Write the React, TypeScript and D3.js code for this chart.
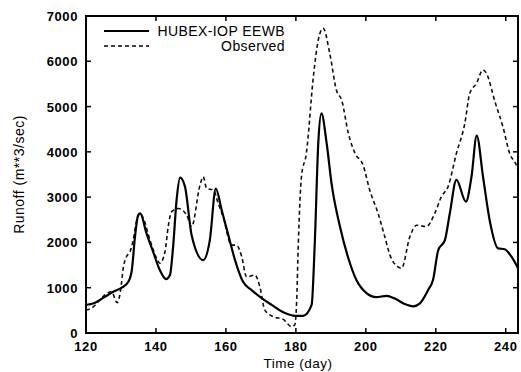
import React, { useRef, useEffect } from "react";
import * as d3 from "d3";

// model run (solid line)
const modelDays = [120, 122.6, 125.4, 127.8, 130.2, 132.1, 133.1, 134, 134.9, 135.5, 137.3, 139.2, 141.1, 142.9, 144, 144.9, 145.9, 146.9, 148.3, 150.2, 153.5, 155.4, 157.1, 158.8, 160.7, 162.6, 164.9, 167.3, 170.2, 173.1, 176.9, 179.7, 182.1, 184.5, 185.4, 186.4, 187.3, 188.8, 190.2, 192.6, 195, 197.3, 200.2, 203, 205.9, 208.3, 211.1, 213.5, 215.4, 217.8, 219.2, 220.7, 222.6, 224, 225.9, 228.6, 230.2, 231.7, 233.5, 235.4, 237.8, 239.7, 241.6, 243.5];
const modelRunoff = [620, 670, 800, 910, 1000, 1130, 1390, 2120, 2600, 2640, 2200, 1790, 1390, 1190, 1280, 1900, 2940, 3430, 3230, 2160, 1610, 2050, 3190, 2710, 2160, 1610, 1130, 950, 770, 620, 440, 380, 380, 620, 1980, 4190, 4850, 4190, 3300, 2350, 1650, 1170, 880, 790, 820, 760, 640, 590, 650, 950, 1170, 1830, 2050, 2640, 3380, 2900, 3450, 4360, 3450, 2490, 1870, 1850, 1690, 1430];

// observed (dashed line)
const obsDays = [120, 121.6, 124, 125.4, 127.3, 128.9, 129.9, 130.7, 131.6, 132.6, 133.5, 134.5, 135.4, 136.4, 138.3, 140.2, 141.1, 142.6, 143.5, 144.5, 146.4, 148.8, 150.2, 152.6, 153.5, 154.5, 156.4, 157.8, 159.2, 161.6, 163, 164.5, 165.9, 168.3, 169.7, 171.1, 173.5, 176.4, 178.8, 179.7, 180.2, 180.7, 181.6, 183, 185, 186.4, 187.8, 189.7, 191.6, 193.1, 195, 196.9, 199.2, 201.1, 203.5, 205.4, 206.9, 209.2, 210.2, 212.6, 214.5, 217.3, 219.7, 221.6, 223.5, 225.9, 228.3, 229.7, 231.6, 233.5, 234.5, 236.9, 239.2, 241.1, 243, 243.5];
const obsRunoff = [510, 550, 730, 840, 910, 670, 950, 1460, 1690, 1800, 2050, 2490, 2640, 2530, 2050, 1650, 1540, 1800, 2350, 2680, 2750, 2600, 2350, 3270, 3450, 3190, 3160, 2860, 2570, 1940, 1940, 1690, 1240, 1280, 1020, 510, 360, 300, 140, 180, 660, 1980, 3450, 3970, 5660, 6470, 6730, 6170, 5360, 5140, 4410, 3970, 3710, 3160, 2640, 2130, 1720, 1460, 1430, 2130, 2380, 2350, 2640, 3010, 3230, 3970, 4630, 5290, 5510, 5810, 5730, 5110, 4550, 3970, 3710, 3600];

const xTicks = [120, 140, 160, 180, 200, 220, 240];
const yTicks = [0, 1000, 2000, 3000, 4000, 5000, 6000, 7000];
const legendLabels = ["HUBEX-IOP EEWB", "Observed"];

function App() {
  const svgRef = useRef<SVGSVGElement>(null);

  useEffect(() => {
    const svg = d3.select(svgRef.current);
    const width = 521;
    const height = 372;
    const margin = { top: 16, right: 3, bottom: 39, left: 86 };
    const font = "Liberation Sans, Arial, Helvetica, sans-serif";

    svg.attr("width", width).attr("height", height);
    svg.selectAll("*").remove();

    const x = d3.scaleLinear()
      .domain([120, 243.5])
      .range([margin.left, width - margin.right]);

    const y = d3.scaleLinear()
      .domain([0, 7000])
      .range([height - margin.bottom, margin.top]);

    const x0 = margin.left, x1 = width - margin.right;
    const y0 = height - margin.bottom, y1 = margin.top;

    // curves, clipped to the frame
    svg.append("clipPath").attr("id", "plot-clip")
      .append("rect").attr("x", x0).attr("y", y1).attr("width", x1 - x0).attr("height", y0 - y1);

    const line = d3.line<[number, number]>()
      .x(d => x(d[0]))
      .y(d => y(d[1]))
      .curve(d3.curveMonotoneX);

    const g = svg.append("g").attr("clip-path", "url(#plot-clip)");

    g.append("path")
      .datum(obsDays.map((d, i) => [d, obsRunoff[i]] as [number, number]))
      .attr("d", line)
      .attr("fill", "none")
      .attr("stroke", "#111")
      .attr("stroke-width", 1.6)
      .attr("stroke-dasharray", "4,3");

    g.append("path")
      .datum(modelDays.map((d, i) => [d, modelRunoff[i]] as [number, number]))
      .attr("d", line)
      .attr("fill", "none")
      .attr("stroke", "#000")
      .attr("stroke-width", 2.2)
      .attr("stroke-linejoin", "round");

    // frame
    svg.append("rect")
      .attr("x", x0).attr("y", y1)
      .attr("width", x1 - x0).attr("height", y0 - y1)
      .attr("fill", "none")
      .attr("stroke", "#000")
      .attr("stroke-width", 2);

    // inward ticks on all four sides
    const tl = 5;
    xTicks.forEach(t => {
      svg.append("line").attr("x1", x(t)).attr("x2", x(t)).attr("y1", y0).attr("y2", y0 - tl)
        .attr("stroke", "#000").attr("stroke-width", 1.5);
      svg.append("line").attr("x1", x(t)).attr("x2", x(t)).attr("y1", y1).attr("y2", y1 + tl)
        .attr("stroke", "#000").attr("stroke-width", 1.5);
    });
    yTicks.forEach(t => {
      svg.append("line").attr("x1", x0).attr("x2", x0 + tl).attr("y1", y(t)).attr("y2", y(t))
        .attr("stroke", "#000").attr("stroke-width", 1.5);
      svg.append("line").attr("x1", x1).attr("x2", x1 - tl).attr("y1", y(t)).attr("y2", y(t))
        .attr("stroke", "#000").attr("stroke-width", 1.5);
    });

    // tick labels
    svg.append("g").selectAll("text")
      .data(xTicks)
      .join("text")
      .attr("x", d => x(d))
      .attr("y", y0 + 18)
      .attr("text-anchor", "middle")
      .style("font-family", font)
      .style("font-size", "13px")
      .style("font-weight", "bold")
      .style("letter-spacing", "0.6px")
      .text(d => d);

    svg.append("g").selectAll("text")
      .data(yTicks)
      .join("text")
      .attr("x", x0 - 8)
      .attr("y", d => y(d) + 5)
      .attr("text-anchor", "end")
      .style("font-family", font)
      .style("font-size", "13px")
      .style("font-weight", "bold")
      .style("letter-spacing", "0.6px")
      .text(d => d);

    // axis titles
    svg.append("text")
      .attr("x", (x0 + x1) / 2 - 4)
      .attr("y", 368)
      .attr("text-anchor", "middle")
      .style("font-family", font)
      .style("font-size", "13.5px")
      .style("letter-spacing", "0.5px")
      .text("Time (day)");

    svg.append("text")
      .attr("transform", `translate(24, ${(y0 + y1) / 2}) rotate(-90)`)
      .attr("text-anchor", "middle")
      .style("font-family", font)
      .style("font-size", "14px")
      .style("letter-spacing", "0.5px")
      .text("Runoff (m**3/sec)");

    // legend
    const legend = svg.append("g");
    legendLabels.forEach((label, i) => {
      const ly = 31 + i * 15;
      legend.append("line")
        .attr("x1", 104).attr("x2", 149).attr("y1", ly).attr("y2", ly)
        .attr("stroke", "#000")
        .attr("stroke-width", i === 0 ? 2.2 : 1.6)
        .attr("stroke-dasharray", i === 0 ? null : "4,3");
      legend.append("text")
        .attr("x", 285)
        .attr("y", ly + 5)
        .attr("text-anchor", "end")
        .style("font-family", font)
        .style("font-size", "14px")
        .style("letter-spacing", "0.4px")
        .text(label);
    });
  }, []);

  return (
    <div style={{ position: "absolute", left: 0, top: 0 }}>
      <svg ref={svgRef}></svg>
    </div>
  );
}

export default App;
